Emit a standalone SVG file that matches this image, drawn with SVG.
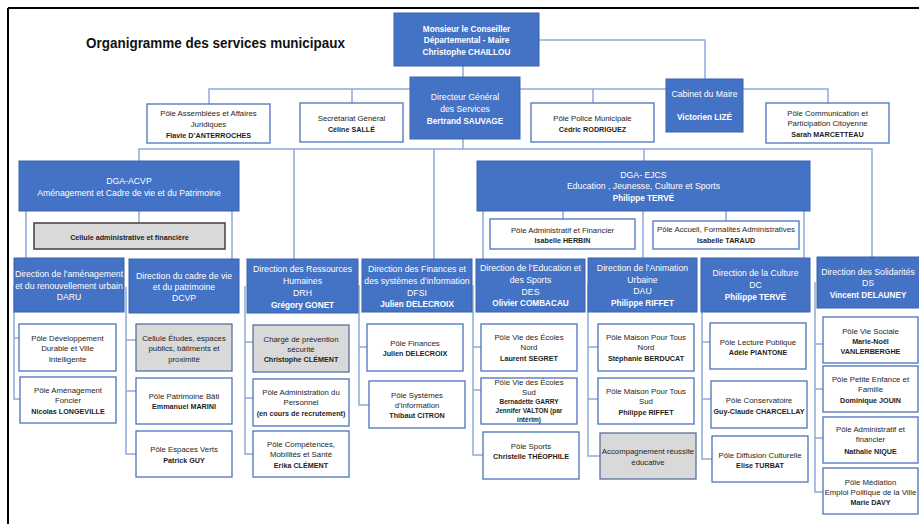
<svg xmlns="http://www.w3.org/2000/svg" width="919" height="524" viewBox="0 0 919 524">
<style>
.frame{stroke:#000;stroke-width:2;fill:none}
.c path{stroke:#8FAADC;stroke-width:1.5;fill:none}
.b{fill:#4472C4;stroke:#3A62AD;stroke-width:1}
.w{fill:#fff;stroke:#4A72BE;stroke-width:1.3}
.g{fill:#D9D9D9;stroke:#5A6F9E;stroke-width:1.3}
.gd{fill:#D9D9D9;stroke:#4a4a4a;stroke-width:1.6}
text{font-family:"Liberation Sans",Arial,sans-serif;text-anchor:middle}
.tw{fill:#fff;font-size:8.7px}
.tw.bd{font-size:8.2px}
.tk{fill:#1e1e1e;font-size:7.8px}
.tk.bd{font-size:7.2px}
.bd{font-weight:bold}
.title{font-size:14px;font-weight:bold;fill:#111;text-anchor:start}
</style>
<rect width="919" height="524" fill="#fff"/>
<path class="frame" d="M8,8 H919 M8,8 V524"/>
<text class="title" x="86" y="48" textLength="259" lengthAdjust="spacingAndGlyphs">Organigramme des services municipaux</text>

<g class="c" id="connectors">
<path d="M463,66 V77"/>
<path d="M539,40 H705 V79"/>
<path d="M209,104 V89 H828 V103"/>
<path d="M352,89 V103"/>
<path d="M593,89 V103"/>
<path d="M463,139 V149"/>
<path d="M139,161 V149 H872 V257"/>
<path d="M294,149 V259"/>
<path d="M434,149 V259"/>
<path d="M644,149 V161"/>
<path d="M139,211 V223"/>
<path d="M26,211 V258"/>
<path d="M232,211 V259"/>
<path d="M483,211 V259"/>
<path d="M563,211 V219"/>
<path d="M643,211 V258"/>
<path d="M726,211 V221"/>
<path d="M804,211 V258"/>
<path d="M14,285 V399 H20 M14,338 H19"/>
<path d="M126,287 V454 H136 M126,340 H136 M126,391 H136"/>
<path d="M245,286 V454 H253 M245,342 H253 M245,398 H253"/>
<path d="M359,285 V405 H369 M359,347 H367"/>
<path d="M473,285 V455 H483 M473,347 H481 M473,390 H481"/>
<path d="M588,285 V456 H600 M588,347 H598 M588,399 H598"/>
<path d="M702,285 V459 H712 M702,342 H710 M702,399 H711"/>
<path d="M815,282 V492 H823 M815,344 H823 M815,389 H823 M815,438 H823"/>
</g>

<g id="maire"><rect class="b" x="394" y="13" width="145" height="53"/>
<text class="tw bd" x="466.5" y="32">Monsieur le Conseiller</text>
<text class="tw bd" x="466.5" y="43">Départemental - Maire</text>
<text class="tw bd" x="466.5" y="55">Christophe CHAILLOU</text></g>

<g id="dgs"><rect class="b" x="410" y="77" width="110" height="62"/>
<text class="tw" x="465" y="100">Directeur Général</text>
<text class="tw" x="465" y="112">des Services</text>
<text class="tw bd" x="465" y="124">Bertrand SAUVAGE</text></g>

<g id="cabinet"><rect class="b" x="666" y="79" width="77" height="53"/>
<text class="tw" x="704.5" y="97">Cabinet du Maire</text>
<text class="tw bd" x="704.5" y="120">Victorien LIZÉ</text></g>

<g id="assemblees"><rect class="w" x="147" y="104" width="123" height="39"/>
<text class="tk" x="208.5" y="115.5">Pôle Assemblées  et Affaires</text>
<text class="tk" x="208.5" y="126.5">Juridiques</text>
<text class="tk bd" x="208.5" y="137.5">Flavie D’ANTERROCHES</text></g>

<g id="secretariat"><rect class="w" x="300" y="103" width="103" height="39"/>
<text class="tk" x="351.5" y="120.5">Secrétariat Général</text>
<text class="tk bd" x="351.5" y="131.5">Céline SALLÉ</text></g>

<g id="police"><rect class="w" x="531" y="103" width="123" height="39"/>
<text class="tk" x="592.5" y="120.5">Pôle  Police Municipale</text>
<text class="tk bd" x="592.5" y="131.5">Cédric RODRIGUEZ</text></g>

<g id="communication"><rect class="w" x="766" y="103" width="123" height="40"/>
<text class="tk" x="827.5" y="115.5">Pôle Communication et</text>
<text class="tk" x="827.5" y="125.5">Participation Citoyenne</text>
<text class="tk bd" x="827.5" y="136.5">Sarah MARCETTEAU</text></g>

<g id="dga-acvp"><rect class="b" x="19" y="161" width="220" height="50"/>
<text class="tw" x="129" y="184">DGA-ACVP</text>
<text class="tw" x="129" y="196">Aménagement et Cadre de vie et du Patrimoine</text></g>

<g id="cellule-admin"><rect class="gd" x="34" y="223" width="191" height="26"/>
<text class="tk bd" x="129.5" y="239.5">Cellule administrative et financière</text></g>

<g id="daru"><rect class="b" x="14" y="258" width="110" height="54"/>
<text class="tw" x="69" y="277">Direction de l’aménagement</text>
<text class="tw" x="69" y="289">et du renouvellement urbain</text>
<text class="tw" x="69" y="300">DARU</text></g>

<g id="dcvp"><rect class="b" x="129" y="259" width="110" height="54"/>
<text class="tw" x="184" y="279">Direction du cadre de vie</text>
<text class="tw" x="184" y="290">et du patrimoine</text>
<text class="tw" x="184" y="301">DCVP</text></g>

<g id="drh"><rect class="b" x="247" y="259" width="111" height="54"/>
<text class="tw" x="302.5" y="272">Direction des Ressources</text>
<text class="tw" x="302.5" y="284">Humaines</text>
<text class="tw" x="302.5" y="296">DRH</text>
<text class="tw bd" x="302.5" y="308">Grégory GONET</text></g>

<g id="dfsi"><rect class="b" x="362" y="259" width="110" height="53"/>
<text class="tw" x="417" y="272">Direction des Finances et</text>
<text class="tw" x="417" y="284">des systèmes d’information</text>
<text class="tw" x="417" y="296">DFSI</text>
<text class="tw bd" x="417" y="307">Julien DELECROIX</text></g>

<g id="dga-ejcs"><rect class="b" x="477" y="161" width="333" height="50"/>
<text class="tw" x="643.5" y="178">DGA- EJCS</text>
<text class="tw" x="643.5" y="189">Education , Jeunesse, Culture et Sports</text>
<text class="tw bd" x="643.5" y="201">Philippe TERVÉ</text></g>

<g id="pole-admin-fin"><rect class="w" x="490" y="219" width="145" height="30"/>
<text class="tk" x="562.5" y="232.5">Pôle Administratif et Financier</text>
<text class="tk bd" x="562.5" y="242.5">Isabelle HERBIN</text></g>

<g id="pole-accueil"><rect class="w" x="653" y="221" width="146" height="28"/>
<text class="tk" x="726" y="231.5">Pôle Accueil, Formalités Administratives</text>
<text class="tk bd" x="726" y="242.5">Isabelle TARAUD</text></g>

<g id="des"><rect class="b" x="476" y="259" width="109" height="53"/>
<text class="tw" x="530.5" y="271">Direction de l’Education et</text>
<text class="tw" x="530.5" y="283">des Sports</text>
<text class="tw" x="530.5" y="295">DES</text>
<text class="tw bd" x="530.5" y="306">Olivier COMBACAU</text></g>

<g id="dau"><rect class="b" x="588" y="258" width="109" height="54"/>
<text class="tw" x="642.5" y="271">Direction de l’Animation</text>
<text class="tw" x="642.5" y="283">Urbaine</text>
<text class="tw" x="642.5" y="294">DAU</text>
<text class="tw bd" x="642.5" y="306">Philippe RIFFET</text></g>

<g id="dc"><rect class="b" x="701" y="258" width="109" height="54"/>
<text class="tw" x="755.5" y="276">Direction de la Culture</text>
<text class="tw" x="755.5" y="288">DC</text>
<text class="tw bd" x="755.5" y="300">Philippe TERVÉ</text></g>

<g id="ds"><rect class="b" x="817" y="257" width="104" height="51"/>
<text class="tw" x="868" y="275">Direction des Solidarités</text>
<text class="tw" x="868" y="286">DS</text>
<text class="tw bd" x="868" y="298">Vincent DELAUNEY</text></g>

<g id="pole-dev-durable"><rect class="w" x="19" y="324" width="97" height="47"/>
<text class="tk" x="67.5" y="340.5">Pôle Développement</text>
<text class="tk" x="67.5" y="350.5">Durable et Ville</text>
<text class="tk" x="67.5" y="361.5">Intelligente</text></g>

<g id="pole-amenagement-foncier"><rect class="w" x="20" y="377" width="96" height="46"/>
<text class="tk" x="68" y="392.5">Pôle Aménagement</text>
<text class="tk" x="68" y="402.5">Foncier</text>
<text class="tk bd" x="68" y="413.5">Nicolas LONGEVILLE</text></g>

<g id="cellule-etudes"><rect class="g" x="136" y="324" width="96" height="47"/>
<text class="tk" x="184" y="340.5">Cellule Études, espaces</text>
<text class="tk" x="184" y="350.5">publics, bâtiments et</text>
<text class="tk" x="184" y="361.5">proximité</text></g>

<g id="pole-patrimoine"><rect class="w" x="136" y="378" width="96" height="46"/>
<text class="tk" x="184" y="398.5">Pôle Patrimoine Bâti</text>
<text class="tk bd" x="184" y="408.5">Emmanuel MARINI</text></g>

<g id="pole-espaces-verts"><rect class="w" x="136" y="431" width="96" height="46"/>
<text class="tk" x="184" y="451.5">Pôle Espaces Verts</text>
<text class="tk bd" x="184" y="462.5">Patrick GUY</text></g>

<g id="charge-prevention"><rect class="g" x="253" y="325" width="96" height="47"/>
<text class="tk" x="301" y="341.5">Chargé de prévention</text>
<text class="tk" x="301" y="351.5">sécurité</text>
<text class="tk bd" x="301" y="361.5">Christophe CLÉMENT</text></g>

<g id="pole-admin-personnel"><rect class="w" x="253" y="379" width="96" height="47"/>
<text class="tk" x="301" y="394.5">Pôle Administration du</text>
<text class="tk" x="301" y="404.5">Personnel</text>
<text class="tk bd" x="301" y="415.5">(en cours de recrutement)</text></g>

<g id="pole-competences"><rect class="w" x="253" y="431" width="96" height="46"/>
<text class="tk" x="301" y="446.5">Pôle Compétences,</text>
<text class="tk" x="301" y="456.5">Mobilités et Santé</text>
<text class="tk bd" x="301" y="467.5">Erika CLÉMENT</text></g>

<g id="pole-finances"><rect class="w" x="367" y="324" width="96" height="47"/>
<text class="tk" x="415" y="345.5">Pôle Finances</text>
<text class="tk bd" x="415" y="355.5">Julien DELECROIX</text></g>

<g id="pole-systemes"><rect class="w" x="369" y="381" width="96" height="47"/>
<text class="tk" x="417" y="397.5">Pôle Systèmes</text>
<text class="tk" x="417" y="407.5">d’information</text>
<text class="tk bd" x="417" y="417.5">Thibaut CITRON</text></g>

<g id="ecoles-nord"><rect class="w" x="481" y="324" width="96" height="47"/>
<text class="tk" x="529" y="339.5">Pôle Vie des Écoles</text>
<text class="tk" x="529" y="349.5">Nord</text>
<text class="tk bd" x="529" y="360.5">Laurent SEGRET</text></g>

<g id="ecoles-sud"><rect class="w" x="481" y="378" width="96" height="46"/>
<text class="tk" x="529" y="384.5">Pôle Vie des Écoles</text>
<text class="tk" x="529" y="394.5">Sud</text>
<text class="tk bd" x="529" y="404" style="font-size:6.5px">Bernadette GARRY</text>
<text class="tk bd" x="529" y="413" style="font-size:6.5px">Jennifer VALTON (par</text>
<text class="tk bd" x="529" y="422" style="font-size:6.5px">intérim)</text></g>

<g id="pole-sports"><rect class="w" x="483" y="432" width="96" height="47"/>
<text class="tk" x="531" y="448.5">Pôle Sports</text>
<text class="tk bd" x="531" y="458.5">Christelle THÉOPHILE</text></g>

<g id="mpt-nord"><rect class="w" x="598" y="324" width="96" height="47"/>
<text class="tk" x="646" y="339.5">Pôle Maison Pour Tous</text>
<text class="tk" x="646" y="349.5">Nord</text>
<text class="tk bd" x="646" y="360.5">Stéphanie BERDUCAT</text></g>

<g id="mpt-sud"><rect class="w" x="598" y="378" width="96" height="46"/>
<text class="tk" x="646" y="393.5">Pôle Maison Pour Tous</text>
<text class="tk" x="646" y="403.5">Sud</text>
<text class="tk bd" x="646" y="414.5">Philippe RIFFET</text></g>

<g id="accompagnement"><rect class="g" x="600" y="433" width="96" height="46"/>
<text class="tk" x="648" y="453.5">Accompagnement réussite</text>
<text class="tk" x="648" y="464.5">éducative</text></g>

<g id="lecture-publique"><rect class="w" x="710" y="323" width="96" height="46"/>
<text class="tk" x="758" y="344.5">Pôle Lecture Publique</text>
<text class="tk bd" x="758" y="354.5">Adèle PIANTONE</text></g>

<g id="conservatoire"><rect class="w" x="711" y="381" width="96" height="47"/>
<text class="tk" x="759" y="402.5">Pôle Conservatoire</text>
<text class="tk bd" x="759" y="413.5">Guy-Claude CHARCELLAY</text></g>

<g id="diffusion"><rect class="w" x="712" y="436" width="96" height="46"/>
<text class="tk" x="760" y="457.5">Pôle Diffusion Culturelle</text>
<text class="tk bd" x="760" y="467.5">Elise TURBAT</text></g>

<g id="vie-sociale"><rect class="w" x="823" y="317" width="95" height="46"/>
<text class="tk" x="870.5" y="333.5">Pôle Vie Sociale</text>
<text class="tk bd" x="870.5" y="343.5">Marie-Noël</text>
<text class="tk bd" x="870.5" y="353.5">VANLERBERGHE</text></g>

<g id="petite-enfance"><rect class="w" x="823" y="366" width="95" height="46"/>
<text class="tk" x="870.5" y="381.5">Pôle Petite Enfance et</text>
<text class="tk" x="870.5" y="391.5">Famille</text>
<text class="tk bd" x="870.5" y="402.5">Dominique JOUIN</text></g>

<g id="admin-financier-ds"><rect class="w" x="823" y="417" width="95" height="46"/>
<text class="tk" x="870.5" y="431.5">Pôle Administratif et</text>
<text class="tk" x="870.5" y="441.5">financier</text>
<text class="tk bd" x="870.5" y="453.5">Nathalie NIQUE</text></g>

<g id="mediation"><rect class="w" x="823" y="468" width="95" height="46"/>
<text class="tk" x="870.5" y="484.5">Pôle Médiation</text>
<text class="tk" x="870.5" y="494.5">Emploi Politique de la Ville</text>
<text class="tk bd" x="870.5" y="504.5">Marie DAVY</text></g>
</svg>
